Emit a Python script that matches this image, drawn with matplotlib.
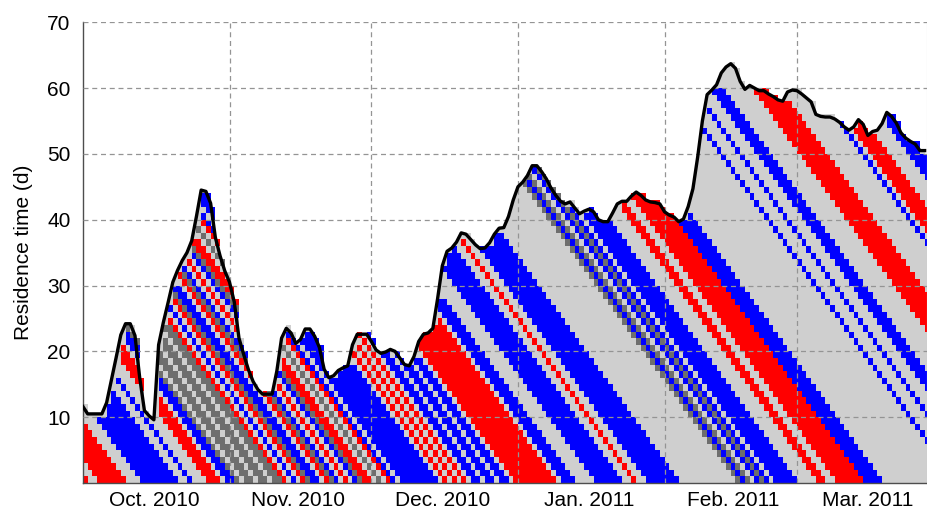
import numpy as np
import matplotlib.pyplot as plt
from matplotlib.colors import ListedColormap

plt.rcParams['font.family'] = ['Liberation Sans', 'DejaVu Sans']

# residence time (d), one value per day starting 1 Oct 2010
res_time = [
    11.6, 10.5, 10.5, 10.5, 10.5, 12.2, 15.6, 19.0, 22.5, 24.2,
    24.2, 22.4, 16.0, 11.0, 10.2, 9.6, 21.0, 24.4, 27.4, 30.5,
    32.3, 33.8, 35.0, 36.8, 40.5, 44.5, 44.3, 42.5, 37.3, 34.5,
    32.2, 30.5, 27.5, 22.0, 19.5, 17.2, 15.4, 14.2, 13.5, 13.5,
    13.5, 17.0, 22.0, 23.5, 22.8, 21.2, 21.8, 23.4, 23.4, 22.3,
    20.6, 17.3, 16.0, 16.3, 17.1, 17.5, 17.8, 21.0, 22.6, 22.6,
    22.6, 21.5, 20.2, 19.7, 19.9, 20.3, 20.0, 19.0, 18.0, 17.8,
    19.2, 21.5, 22.6, 22.8, 23.5, 28.0, 33.0, 35.2, 35.7, 36.6,
    38.0, 37.8, 37.0, 36.2, 35.6, 35.7, 36.5, 37.8, 38.7, 38.8,
    40.5, 43.0, 45.0, 45.7, 46.7, 48.2, 48.2, 47.3, 46.2, 44.8,
    43.7, 42.8, 42.4, 42.7, 41.8, 40.9, 41.3, 41.6, 41.2, 40.0,
    39.7, 39.7, 41.0, 42.4, 42.8, 42.8, 43.6, 44.2, 43.7, 43.0,
    42.7, 42.6, 42.4, 41.2, 40.7, 40.4, 39.7, 40.1, 42.0, 44.7,
    49.5, 55.0, 59.0, 59.7, 60.5, 62.3, 63.2, 63.7, 63.0, 61.0,
    59.8, 60.4, 60.0, 59.6, 59.6, 59.1, 58.7, 58.2, 58.0, 59.4,
    59.7, 59.6, 59.1, 58.5, 57.9, 56.0, 55.7, 55.6, 55.6, 55.3,
    54.8, 54.1, 53.6, 54.1, 55.2, 54.5, 52.8, 53.4, 53.6, 54.6,
    56.3, 55.7, 54.7, 53.2, 52.4, 51.9, 51.5, 50.5, 50.5,
]

# class of the water parcel for each day (r red, b blue, g light grey, d dark grey)
parcel_class = (
    "rggrrrrrrg" "ggbbbbbbbb" "ggbgggrrrg" "bbdgddgddg"
    "ddrgbgrdbb" "grdbgrgbdr" "rgdgrbgbbb" "bbbbbgrgrg"
    "rgbbgbbgbb" "grrrrrrrrr" "gbbbggggbb" "bbbbggrggb"
    "bbbbbbgggg" "ggggggggdb" "dgbdbgbbbb" "bggggrrggr"
    "rrrrrbbbbg" "gggggggggg" "ggggbgggbg" "ggbbbggggg"
    "grrrrrrggg" "ggggbgrrrr" "ggggbbbbgg"
)

month_starts = [31, 61, 92, 123, 151]
month_mids = [15, 45.5, 76, 107, 137.5, 166]
month_labels = ["Oct. 2010", "Nov. 2010", "Dec. 2010", "Jan. 2011", "Feb. 2011", "Mar. 2011"]

light = "#cfcfcf"
class_idx = {"g": 0, "d": 1, "r": 2, "b": 3}
cmap = ListedColormap([light, "#6e6e6e", "#ff0000", "#0000ff"])

ndays = len(res_time)
nrows = 70
cells = np.full((nrows, ndays), np.nan)
for d in range(ndays):
    n = int(round(res_time[d]))
    for r in range(n):
        cells[r, d] = class_idx[parcel_class[d + r]]

fig = plt.figure(figsize=(9.28, 5.12), dpi=100)
ax = fig.add_axes([0.0894, 0.0566, 0.9095, 0.900])

days = np.arange(ndays)
ax.fill_between(days, 0, res_time, color=light, lw=0, zorder=0.5)
ax.pcolormesh(np.arange(ndays + 1), np.arange(nrows + 1), np.ma.masked_invalid(cells),
              cmap=cmap, vmin=-0.5, vmax=3.5, zorder=1)
ax.plot(days, res_time, color="k", lw=2.4, zorder=3, solid_joinstyle="round")

ax.set_xlim(0, 178.5)
ax.set_ylim(0, 70)
ax.set_xticks(month_starts)
ax.set_xticklabels([])
ax.set_xticks(month_mids, minor=True)
ax.set_xticklabels(month_labels, minor=True)
ax.set_yticks(range(10, 71, 10))
ax.tick_params(which="both", length=0, labelsize=15)
ax.tick_params(axis="y", pad=9)
ax.tick_params(axis="x", which="minor", pad=6)
ax.grid(True, which="major", ls=(0, (4, 3)), color="0.58", lw=0.9)
ax.set_axisbelow(False)

ax.set_ylabel("Residence time (d)", fontsize=15, labelpad=10)

for side in ["left", "bottom"]:
    ax.spines[side].set_color("0.3")
    ax.spines[side].set_linewidth(1.0)
ax.spines["top"].set_visible(False)
ax.spines["right"].set_color("0.8")

plt.savefig("out.png", dpi=100)
plt.close()
